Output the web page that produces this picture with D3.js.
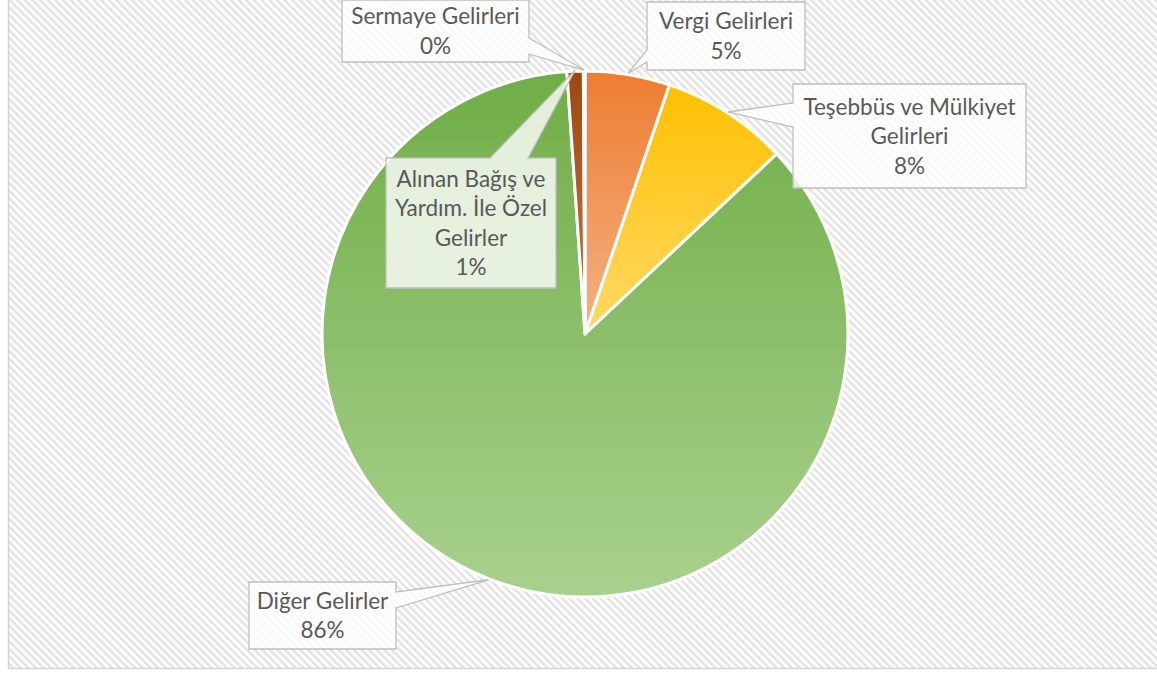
<!DOCTYPE html>
<html>
<head>
<meta charset="utf-8">
<script src="https://cdn.jsdelivr.net/npm/d3@7"></script>
<style>
  html, body { margin: 0; padding: 0; background: #fff; }
  #chart { width: 1157px; height: 673px; }
</style>
</head>
<body>
<div id="chart"></div>
<script>
// Gelir kalemleri (saat 12 yönünden saat yönünde)
const kategoriler = ['Vergi Gelirleri', 'Teşebbüs ve Mülkiyet Gelirleri', 'Diğer Gelirler', 'Alınan Bağış ve Yardım. İle Özel Gelirler', 'Sermaye Gelirleri'];
const degerler = [5.2, 7.8, 85.9, 1.0, 0.1];
const etiketSatirlari = [
  ['Vergi Gelirleri'],
  ['Teşebbüs ve Mülkiyet', 'Gelirleri'],
  ['Diğer Gelirler'],
  ['Alınan Bağış ve', 'Yardım. İle Özel', 'Gelirler'],
  ['Sermaye Gelirleri']
];

// renkler: üst -> alt gradyan
var renkUst = ['#ED7D31', '#FFC000', '#70AD47', '#9E480E', '#7F6000'];
var renkAlt = ['#F4B183', '#FFD966', '#A9D18E', '#C27A4C', '#BF9000'];

// etiket kutuları (x, y, w, h, ok tarafı, ok tabanı)
var kutular = [
  { x: 647, y: 2, w: 158, h: 68, side: 'left', b0: 50, b1: 62 },
  { x: 793, y: 84, w: 233, h: 104, side: 'left', b0: 103, b1: 127 },
  { x: 249, y: 582, w: 147, h: 67, side: 'right', b0: 592, b1: 608 },
  { x: 386, y: 158, w: 170, h: 130, side: 'top', b0: 490, b1: 528 },
  { x: 342, y: 0, w: 187, h: 62, side: 'right', b0: 38, b1: 54 }
];

var width = 1157, height = 673;
var cx = 585, cy = 334, radius = 263;
var satirAraligi = 29.5;

var svg = d3.select('#chart')
  .append('svg')
  .attr('width', width)
  .attr('height', height);

var defs = svg.append('defs');

// arka plan tarama deseni
var desen = defs.append('pattern')
  .attr('id', 'tarama')
  .attr('patternUnits', 'userSpaceOnUse')
  .attr('width', 5.4)
  .attr('height', 10)
  .attr('patternTransform', 'rotate(-45)');
desen.append('rect').attr('width', 5.4).attr('height', 10).attr('fill', '#ffffff');
desen.append('rect').attr('width', 2.6).attr('height', 10).attr('fill', '#E4E4E4');

degerler.forEach(function(d, i) {
  var g = defs.append('linearGradient')
    .attr('id', 'grad' + i)
    .attr('x1', 0).attr('y1', 0).attr('x2', 0).attr('y2', 1);
  g.append('stop').attr('offset', '0%').attr('stop-color', renkUst[i]);
  g.append('stop').attr('offset', '100%').attr('stop-color', renkAlt[i]);
});

// grafik alanı
svg.append('rect')
  .attr('x', 8.5).attr('y', -5)
  .attr('width', width + 10).attr('height', 668.5 + 5)
  .attr('fill', 'url(#tarama)')
  .attr('stroke', '#D4D4D4')
  .attr('stroke-width', 1.5);

var pie = d3.pie().sort(null).value(function(d) { return d; });
var arcs = pie(degerler);

var arc = d3.arc().innerRadius(0).outerRadius(radius);

var pasta = svg.append('g')
  .attr('transform', 'translate(' + cx + ',' + cy + ')');

pasta.selectAll('path')
  .data(arcs)
  .enter().append('path')
  .attr('d', arc)
  .attr('fill', function(d, i) { return 'url(#grad' + i + ')'; })
  .attr('stroke', '#ffffff')
  .attr('stroke-width', 3)
  .attr('stroke-linejoin', 'round');

// etiket kutusu + ok şekli
function kutuYolu(b, tip) {
  var x0 = b.x, y0 = b.y, x1 = b.x + b.w, y1 = b.y + b.h;
  var p = [[x0, y0]];
  if (b.side === 'top') { p.push([b.b0, y0], tip, [b.b1, y0]); }
  p.push([x1, y0]);
  if (b.side === 'right') { p.push([x1, b.b0], tip, [x1, b.b1]); }
  p.push([x1, y1], [x0, y1]);
  if (b.side === 'left') { p.push([x0, b.b1], tip, [x0, b.b0]); }
  return d3.line()(p) + 'Z';
}

var toplam = d3.sum(degerler);

var etiketler = svg.append('g').selectAll('g')
  .data(arcs)
  .enter().append('g');

etiketler.append('path')
  .attr('d', function(d, i) {
    var orta = (d.startAngle + d.endAngle) / 2;
    var pt = d3.pointRadial(orta, radius + 1);
    return kutuYolu(kutular[i], [cx + pt[0], cy + pt[1]]);
  })
  .attr('fill', '#ffffff')
  .attr('fill-opacity', 0.8)
  .attr('stroke', '#BFBFBF')
  .attr('stroke-width', 1.3)
  .attr('stroke-linejoin', 'miter');

etiketler.each(function(d, i) {
  var b = kutular[i];
  var satirlar = etiketSatirlari[i].concat([Math.round(d.value / toplam * 100) + '%']);
  var n = satirlar.length;
  var ortaY = b.y + b.h / 2;
  var t = d3.select(this).append('text')
    .attr('text-anchor', 'middle')
    .attr('fill', '#595959')
    .style('font-family', 'Lato, "Open Sans", sans-serif')
    .style('font-size', '22.5px');
  satirlar.forEach(function(s, j) {
    t.append('tspan')
      .attr('x', b.x + b.w / 2)
      .attr('y', ortaY - (n - 1) / 2 * satirAraligi + j * satirAraligi + 8)
      .text(s);
  });
});
</script>
</body>
</html>
